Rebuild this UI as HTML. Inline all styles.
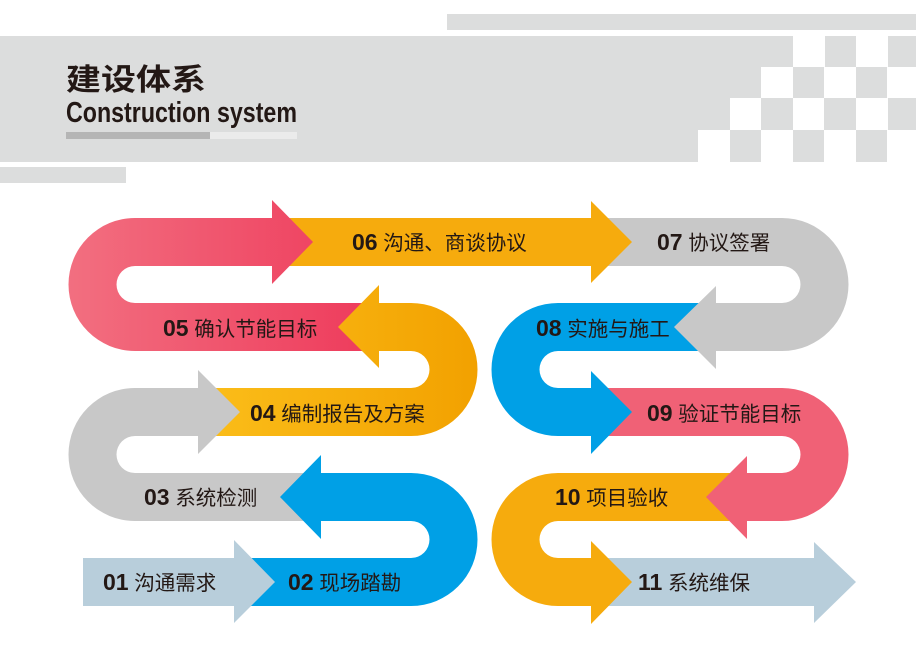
<!DOCTYPE html>
<html><head><meta charset="utf-8"><style>
html,body{margin:0;padding:0;background:#fff;}
svg{display:block;}
text{font-family:"Liberation Sans","Noto Sans CJK SC",sans-serif;fill:#231815;}
</style></head><body>
<svg width="916" height="654" viewBox="0 0 916 654" xmlns="http://www.w3.org/2000/svg">
<defs>
<linearGradient id="red" x1="0" x2="1" y1="0" y2="0"><stop offset="0" stop-color="#f26f80"/><stop offset="1" stop-color="#ee3a5b"/></linearGradient>
<linearGradient id="org" x1="0" x2="1" y1="0" y2="0"><stop offset="0" stop-color="#fbbe1a"/><stop offset="1" stop-color="#f2a100"/></linearGradient>
</defs>
<!-- header -->
<rect x="447" y="14" width="469" height="16" fill="#dcdddd"/>
<rect x="0" y="36" width="793" height="31" fill="#dcdddd"/>
<rect x="825" y="36" width="31" height="31" fill="#dcdddd"/>
<rect x="888" y="36" width="28" height="31" fill="#dcdddd"/>
<rect x="0" y="67" width="761" height="31" fill="#dcdddd"/>
<rect x="793" y="67" width="31" height="31" fill="#dcdddd"/>
<rect x="856" y="67" width="31" height="31" fill="#dcdddd"/>
<rect x="0" y="98" width="730" height="32" fill="#dcdddd"/>
<rect x="761" y="98" width="32" height="32" fill="#dcdddd"/>
<rect x="824" y="98" width="32" height="32" fill="#dcdddd"/>
<rect x="888" y="98" width="28" height="32" fill="#dcdddd"/>
<rect x="0" y="130" width="698" height="32" fill="#dcdddd"/>
<rect x="730" y="130" width="31" height="32" fill="#dcdddd"/>
<rect x="793" y="130" width="31" height="32" fill="#dcdddd"/>
<rect x="856" y="130" width="31" height="32" fill="#dcdddd"/>
<rect x="0" y="167" width="126" height="16" fill="#dcdddd"/>
<text x="66" y="90" font-size="30" font-weight="bold" textLength="140" lengthAdjust="spacingAndGlyphs">建设体系</text>
<text x="66" y="122" font-size="29" font-weight="bold" textLength="231" lengthAdjust="spacingAndGlyphs">Construction system</text>
<rect x="66" y="132" width="144" height="7" fill="#b5b5b5"/>
<rect x="210" y="132" width="87" height="7" fill="#ebebeb"/>

<!-- snake, reverse order -->
<path d="M591,558 H814 V542 L856,582 L814,623 V606 H591 Z" fill="#b8cedb"/>
<path d="M747,473 H558 A66.5,66.5 0 0 0 558,606 H591 V624 L632,582 L591,541 V558 H558 A18.5,18.5 0 0 1 558,521 H747 Z" fill="#f6ab0d"/>
<path d="M591,388 H782 A66.5,66.5 0 0 1 782,521 H747 V539 L706,497 L747,456 V473 H782 A18.5,18.5 0 0 0 782,436 H591 Z" fill="#f06176"/>
<path d="M716,303 H558 A66.5,66.5 0 0 0 558,436 H591 V454 L632,412 L591,371 V388 H558 A18.5,18.5 0 0 1 558,351 H716 Z" fill="#00a0e6"/>
<path d="M591,218 H782 A66.5,66.5 0 0 1 782,351 H716 V369 L674,327 L716,286 V303 H782 A18.5,18.5 0 0 0 782,266 H591 Z" fill="#c8c8c8"/>
<path d="M272,218 H591 V201 L632,242 L591,283 V266 H272 Z" fill="#f6ab0d"/>
<path d="M379,351 H135 A66.5,66.5 0 0 1 135,218 H272 V200 L313,242 L272,284 V266 H135 A18.5,18.5 0 0 0 135,303 H379 Z" fill="url(#red)"/>
<path d="M198,436 H411 A66.5,66.5 0 0 0 411,303 H379 V285 L338,327 L379,368 V351 H411 A18.5,18.5 0 0 1 411,388 H198 Z" fill="url(#org)"/>
<path d="M321,521 H135 A66.5,66.5 0 0 1 135,388 H198 V370 L240,412 L198,454 V436 H135 A18.5,18.5 0 0 0 135,473 H321 Z" fill="#c8c8c8"/>
<path d="M234,558 H411 A18.5,18.5 0 0 0 411,521 H321 V455 L280,497 L321,539 V473 H411 A66.5,66.5 0 0 1 411,606 H234 Z" fill="#00a0e6"/>
<path d="M83,558 H234 V540 L275,582 L234,623 V606 H83 Z" fill="#b8cedb"/>

<!-- labels -->
<g font-size="20.5">
<text x="352" y="250"><tspan font-weight="bold" font-size="23">06</tspan> 沟通、商谈协议</text>
<text x="163" y="336"><tspan font-weight="bold" font-size="23">05</tspan> 确认节能目标</text>
<text x="250" y="421"><tspan font-weight="bold" font-size="23">04</tspan> 编制报告及方案</text>
<text x="144" y="505"><tspan font-weight="bold" font-size="23">03</tspan> 系统检测</text>
<text x="103" y="590"><tspan font-weight="bold" font-size="23">01</tspan> 沟通需求</text>
<text x="288" y="590"><tspan font-weight="bold" font-size="23">02</tspan> 现场踏勘</text>
<text x="657" y="250"><tspan font-weight="bold" font-size="23">07</tspan> 协议签署</text>
<text x="536" y="336"><tspan font-weight="bold" font-size="23">08</tspan> 实施与施工</text>
<text x="647" y="421"><tspan font-weight="bold" font-size="23">09</tspan> 验证节能目标</text>
<text x="555" y="505"><tspan font-weight="bold" font-size="23">10</tspan> 项目验收</text>
<text x="638" y="590"><tspan font-weight="bold" font-size="23">11</tspan> 系统维保</text>
</g>
</svg>
</body></html>
